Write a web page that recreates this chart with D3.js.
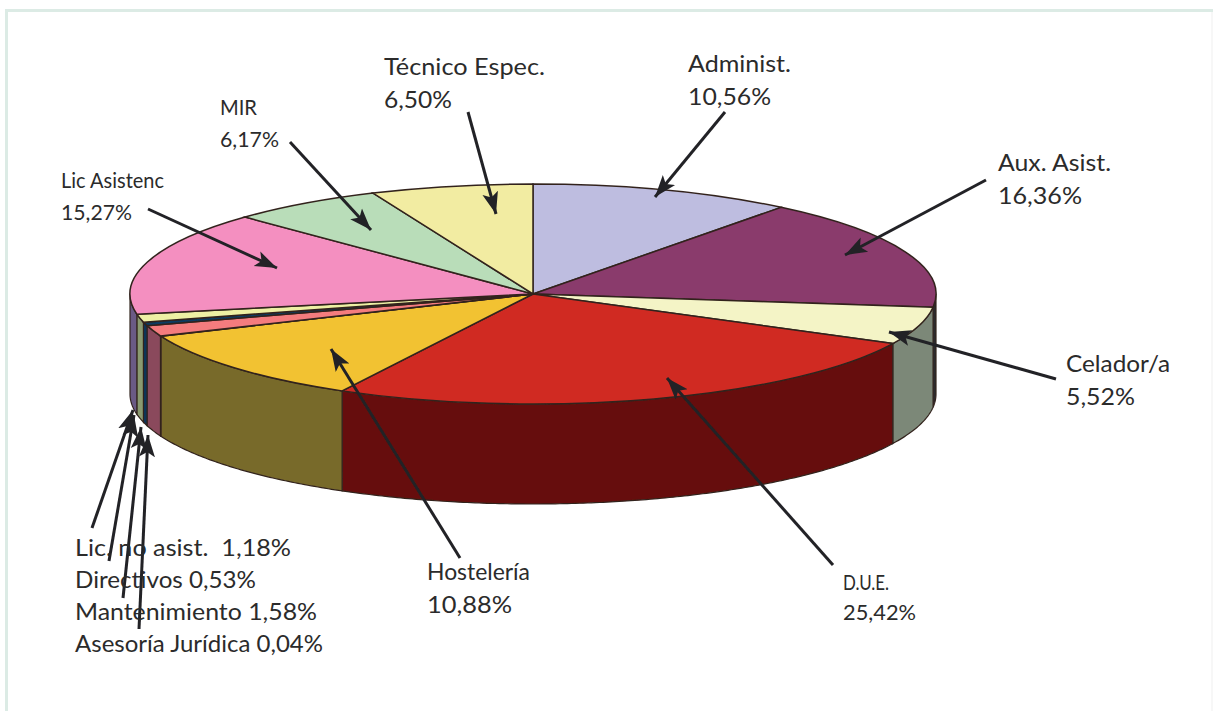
<!DOCTYPE html>
<html><head><meta charset="utf-8">
<style>html,body{margin:0;padding:0;background:#fff}svg{display:block}text{font-family:Lato,"Noto Sans",sans-serif;fill:#2b2b2b}</style>
<script src="https://cdn.jsdelivr.net/npm/d3@7/dist/d3.min.js"></script>
</head><body><svg id="c" width="1213" height="711"></svg>
<script>
const categories=["Administ.","Aux. Asist.","Celador/a","D.U.E.","Hostelería","Asesoría Jurídica","Mantenimiento","Directivos","Lic. no asist.","Lic Asistenc","MIR","Técnico Espec."];
const values=[10.56,16.36,5.52,25.42,10.88,0.04,1.58,0.53,1.18,15.27,6.17,6.50];
const valueLabels=["10,56%","16,36%","5,52%","25,42%","10,88%","0,04%","1,58%","0,53%","1,18%","15,27%","6,17%","6,50%"];
const topColors=["#bebde0","#8a3a6c","#f4f4c6","#d02b24","#f2c232","#cfe0a0","#f47c7e","#0b3a60","#eef0a4","#f48fc0","#b9ddb9","#f2eca2"];
const sideColors=["#5f5f70","#2a2a2e","#7c8878","#66100c","#786a2c","#68705a","#8a4a5c","#0a3658","#8a9a70","#6b5a85","#5c6e5c","#79764f"];
const labelBlocks=[
 {i:11,x:384,y:75,g:33,w:[161,68],fs:23},
 {i:0,x:688,y:72,g:33,w:[103,83],fs:23},
 {i:1,x:998,y:171,g:33,w:[113,84],fs:23},
 {i:2,x:1066,y:372,g:33,w:[104,69],fs:23},
 {i:3,x:843,y:590,g:30,w:[46,73],fs:21},
 {i:4,x:427,y:580,g:33,w:[103,85],fs:23},
 {i:10,x:220,y:115,g:32,w:[37,59],fs:21},
 {i:9,x:61,y:188,g:32,w:[103,71],fs:21}
];
const singleLabels=[
 {text:"Lic. no asist.  1,18%",x:75,y:556,w:216},
 {text:"Directivos 0,53%",x:75,y:588,w:181},
 {text:"Mantenimiento 1,58%",x:75,y:620,w:242},
 {text:"Asesoría Jurídica 0,04%",x:75,y:652,w:248}
];
const arrows=[[468,112,496,214],[725,112,655,197],[986,180,845,255],[1056,379,889,332],[833,565,667,378],[460,558,331,349],[290,142,371,230],[148,209,277,268],[92,528,133,410],[109,561,134,415],[123,598,141,427],[139,629,148,435]];

const cx=533,cy=294,rx=403,ry=110,depth=100;
const svg=d3.select("#c");
svg.append("path").attr("d","M6.5 711V10.5H1213").attr("fill","none").attr("stroke","#dcebe5").attr("stroke-width",3);
svg.append("path").attr("d","M1212 12V711").attr("fill","none").attr("stroke","#efefef").attr("stroke-width",1);

const defs=svg.append("defs");
defs.append("filter").attr("id","soft").attr("x","-2%").attr("y","-2%").attr("width","104%").attr("height","104%")
 .append("feGaussianBlur").attr("stdDeviation",0.55);
defs.append("marker").attr("id","ah").attr("markerUnits","userSpaceOnUse").attr("markerWidth",24).attr("markerHeight",20)
 .attr("refX",22).attr("refY",10).attr("orient","auto").attr("viewBox","0 0 24 20")
 .append("path").attr("d","M22 10L0 2L5 10L0 18Z").attr("fill","#222226");

const chart=svg.append("g").attr("filter","url(#soft)");
const pie=d3.pie().sort(null).value(d=>d);
const arcs=pie(values);
const px=a=>cx+rx*Math.sin(a), py=a=>cy-ry*Math.cos(a);
const edge="#33241e";
const walls=chart.append("g");
arcs.forEach((d,i)=>{
  const a0=Math.max(d.startAngle,Math.PI/2),a1=Math.min(d.endAngle,3*Math.PI/2);
  if(a1<=a0)return;
  const n=Math.max(2,Math.ceil((a1-a0)/0.01));
  const ang=d3.range(n+1).map(k=>a0+(a1-a0)*k/n);
  const pts=ang.map(a=>[px(a),py(a)]).concat(ang.slice().reverse().map(a=>[px(a),py(a)+depth]));
  walls.append("path").attr("d",d3.line()(pts)+"Z").attr("fill",sideColors[i]).attr("stroke",edge).attr("stroke-width",1.2);
});
const arcGen=d3.arc().innerRadius(0).outerRadius(rx);
const tops=chart.append("g").attr("transform",`translate(${cx},${cy}) scale(1,${ry/rx})`);
tops.selectAll("path").data(arcs).join("path").attr("d",arcGen).attr("fill",(d,i)=>topColors[i])
  .attr("stroke",edge).attr("stroke-width",1.5).attr("vector-effect","non-scaling-stroke");

chart.append("g").selectAll("line").data(arrows).join("line")
 .attr("x1",d=>d[0]).attr("y1",d=>d[1]).attr("x2",d=>d[2]).attr("y2",d=>d[3])
 .attr("stroke","#222226").attr("stroke-width",3).attr("marker-end","url(#ah)");

const T=svg.append("g");
function put(t,x,y,fs,w){T.append("text").attr("x",x).attr("y",y).attr("font-size",fs).attr("textLength",w).attr("lengthAdjust","spacingAndGlyphs").attr("xml:space","preserve").text(t);}
labelBlocks.forEach(b=>{put(categories[b.i],b.x,b.y,b.fs,b.w[0]);put(valueLabels[b.i],b.x,b.y+b.g,b.fs,b.w[1]);});
singleLabels.forEach(s=>put(s.text,s.x,s.y,23,s.w));
</script></body></html>
